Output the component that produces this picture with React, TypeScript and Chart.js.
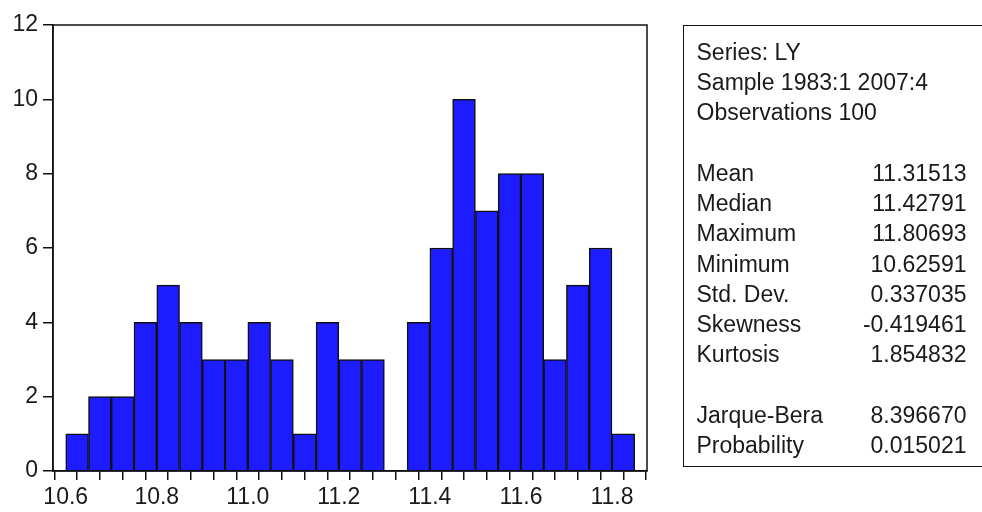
import React, { useEffect, useRef } from "react";
import { Chart, registerables } from "chart.js";

Chart.register(...registerables);

// Histogram bins (centres of 0.05-wide bins) and counts
const binCenters = [
  10.625, 10.675, 10.725, 10.775, 10.825, 10.875, 10.925, 10.975, 11.025, 11.075,
  11.125, 11.175, 11.225, 11.275, 11.325, 11.375, 11.425, 11.475, 11.525, 11.575,
  11.625, 11.675, 11.725, 11.775, 11.825,
];
const counts = [1, 2, 2, 4, 5, 4, 3, 3, 4, 3, 1, 4, 3, 3, 0, 4, 6, 10, 7, 8, 8, 3, 5, 6, 1];

const xMin = 10.572;
const xMax = 11.877;
const xStep = 0.05;
const yMax = 12;
const yStep = 2;

const headerLines = ["Series: LY", "Sample 1983:1 2007:4", "Observations 100"];
const statLabels1 = ["Mean", "Median", "Maximum", "Minimum", "Std. Dev.", "Skewness", "Kurtosis"];
const statValues1 = ["11.31513", "11.42791", "11.80693", "10.62591", "0.337035", "-0.419461", "1.854832"];
const statLabels2 = ["Jarque-Bera", "Probability"];
const statValues2 = ["8.396670", "0.015021"];

const FONT = "'Liberation Sans', Arial, Helvetica, sans-serif";

const framePlugin = {
  id: "frame",
  afterDatasetsDraw(chart: any) {
    const { ctx, chartArea } = chart;
    ctx.save();
    ctx.strokeStyle = "#111";
    ctx.lineWidth = 1.5;
    ctx.strokeRect(chartArea.left, chartArea.top, chartArea.right - chartArea.left, chartArea.bottom - chartArea.top);
    ctx.restore();
  },
};

export default function App() {
  const canvasRef = useRef<HTMLCanvasElement | null>(null);

  useEffect(() => {
    if (!canvasRef.current) return;
    const chart = new Chart(canvasRef.current, {
      type: "bar",
      data: {
        datasets: [
          {
            data: binCenters.map((x, i) => ({ x, y: counts[i] })),
            backgroundColor: "#1c1cff",
            borderColor: "#111",
            borderWidth: 1.5,
            barPercentage: 1,
            categoryPercentage: 1,
          } as any,
        ],
      },
      options: {
        animation: false,
        responsive: true,
        maintainAspectRatio: false,
        layout: { padding: { top: 25, right: 335, left: 0, bottom: 0 } },
        plugins: { legend: { display: false }, tooltip: { enabled: false } },
        scales: {
          x: {
            type: "linear",
            min: xMin,
            max: xMax,
            offset: false,
            grid: { drawOnChartArea: false, tickLength: 9, color: "#111", lineWidth: 1.5 },
            border: { display: true, color: "#111", width: 1.5 },
            ticks: {
              stepSize: xStep,
              includeBounds: false,
              autoSkip: false,
              maxRotation: 0,
              minRotation: 0,
              padding: 4,
              color: "#1a1a1a",
              font: { family: FONT, size: 23 },
              callback: (v: any) => {
                const n = Number(v);
                return Math.abs(n * 5 - Math.round(n * 5)) < 1e-6 ? n.toFixed(1) : "";
              },
            },
            afterFit: (s: any) => {
              s.height = 41;
            },
          } as any,
          y: {
            min: 0,
            max: yMax,
            grid: { drawOnChartArea: false, tickLength: 10, color: "#111", lineWidth: 1.5 },
            border: { display: true, color: "#111", width: 1.5 },
            ticks: {
              stepSize: yStep,
              padding: 5,
              color: "#1a1a1a",
              font: { family: FONT, size: 23 },
            },
            afterFit: (s: any) => {
              s.width = 53;
            },
          } as any,
        },
      },
      plugins: [framePlugin],
    });
    return () => chart.destroy();
  }, []);

  const row = (label: string, value: string, key: string) => (
    <div key={key} style={{ display: "flex", justifyContent: "space-between", width: 270, height: 30.3 }}>
      <span>{label}</span>
      <span>{value}</span>
    </div>
  );

  return (
    <div style={{ position: "fixed", left: 0, top: 0, width: 982, height: 512, background: "#fff", overflow: "hidden" }}>
      <canvas ref={canvasRef} style={{ position: "absolute", left: 0, top: 0 }} />
      <div
        style={{
          position: "absolute",
          left: 683,
          top: 25,
          width: 299,
          height: 442,
          boxSizing: "border-box",
          borderTop: "1.5px solid #111",
          borderLeft: "1.5px solid #111",
          borderBottom: "1.5px solid #111",
          borderRight: "none",
          paddingTop: 10.5,
          paddingLeft: 12.5,
          fontFamily: FONT,
          fontSize: 23,
          lineHeight: "30.3px",
          color: "#1a1a1a",
        }}
      >
        {headerLines.map((t, i) => (
          <div key={"h" + i} style={{ height: 30.3 }}>{t}</div>
        ))}
        <div style={{ height: 30.3 }} />
        {statLabels1.map((l, i) => row(l, statValues1[i], "a" + i))}
        <div style={{ height: 30.3 }} />
        {statLabels2.map((l, i) => row(l, statValues2[i], "b" + i))}
      </div>
    </div>
  );
}
